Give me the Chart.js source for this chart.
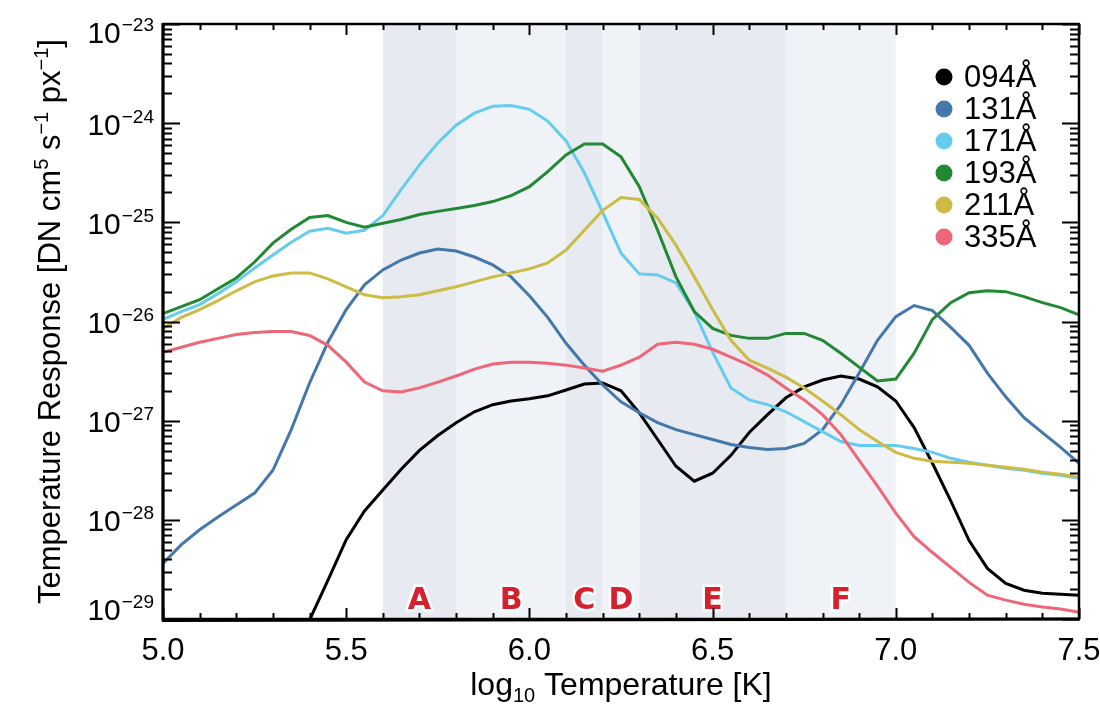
<!DOCTYPE html>
<html>
<head>
<meta charset="utf-8">
<script src="https://cdn.jsdelivr.net/npm/chart.js@4.4.1/dist/chart.umd.min.js"></script>
<style>
  html, body { margin: 0; padding: 0; background: #ffffff; }
  #wrap { width: 1100px; height: 712px; }
</style>
</head>
<body>
<div id="wrap"><canvas id="c" width="1100" height="712"></canvas></div>
<script>
// ---------------- data ----------------
const temps = [5.00, 5.05, 5.10, 5.15, 5.20, 5.25, 5.30, 5.35, 5.40, 5.45,
               5.50, 5.55, 5.60, 5.65, 5.70, 5.75, 5.80, 5.85, 5.90, 5.95,
               6.00, 6.05, 6.10, 6.15, 6.20, 6.25, 6.30, 6.35, 6.40, 6.45,
               6.50, 6.55, 6.60, 6.65, 6.70, 6.75, 6.80, 6.85, 6.90, 6.95,
               7.00, 7.05, 7.10, 7.15, 7.20, 7.25, 7.30, 7.35, 7.40, 7.45, 7.50];

const resp094 = [null, null, null, null, null, null, null, 3.98e-30, 9.77e-30, 2.45e-29,
                 6.31e-29, 1.23e-28, 2.00e-28, 3.24e-28, 5.01e-28, 7.08e-28, 9.55e-28, 1.23e-27, 1.45e-27, 1.58e-27,
                 1.66e-27, 1.78e-27, 2.04e-27, 2.34e-27, 2.40e-27, 2.00e-27, 1.20e-27, 6.46e-28, 3.47e-28, 2.45e-28,
                 2.95e-28, 4.47e-28, 7.59e-28, 1.15e-27, 1.70e-27, 2.19e-27, 2.57e-27, 2.82e-27, 2.63e-27, 2.19e-27,
                 1.58e-27, 8.51e-28, 3.72e-28, 1.55e-28, 6.17e-29, 3.24e-29, 2.29e-29, 1.95e-29, 1.82e-29, 1.78e-29, 1.74e-29];

const resp131 = [3.63e-29, 5.62e-29, 7.94e-29, 1.07e-28, 1.41e-28, 1.86e-28, 3.16e-28, 8.13e-28, 2.40e-27, 6.17e-27,
                 1.32e-26, 2.34e-26, 3.31e-26, 4.17e-26, 4.90e-26, 5.37e-26, 5.13e-26, 4.47e-26, 3.72e-26, 2.82e-26,
                 1.82e-26, 1.10e-26, 6.03e-27, 3.63e-27, 2.29e-27, 1.55e-27, 1.20e-27, 9.55e-28, 8.13e-28, 7.24e-28,
                 6.46e-28, 5.75e-28, 5.37e-28, 5.13e-28, 5.25e-28, 5.89e-28, 8.13e-28, 1.45e-27, 3.02e-27, 6.46e-27,
                 1.12e-26, 1.45e-26, 1.29e-26, 8.71e-27, 5.75e-27, 3.02e-27, 1.74e-27, 1.07e-27, 7.59e-28, 5.37e-28, 3.72e-28];

const resp171 = [1.05e-26, 1.26e-26, 1.48e-26, 1.91e-26, 2.51e-26, 3.47e-26, 4.68e-26, 6.31e-26, 8.13e-26, 8.71e-26,
                 7.76e-26, 8.32e-26, 1.17e-25, 2.14e-25, 3.80e-25, 6.31e-25, 9.55e-25, 1.26e-24, 1.48e-24, 1.51e-24,
                 1.38e-24, 1.05e-24, 6.61e-25, 3.16e-25, 1.26e-25, 4.90e-26, 3.02e-26, 2.95e-26, 2.45e-26, 1.26e-26,
                 4.90e-27, 2.14e-27, 1.62e-27, 1.45e-27, 1.23e-27, 9.77e-28, 7.76e-28, 6.17e-28, 5.62e-28, 5.62e-28,
                 5.62e-28, 5.25e-28, 4.79e-28, 4.17e-28, 3.80e-28, 3.55e-28, 3.31e-28, 3.16e-28, 2.95e-28, 2.82e-28, 2.63e-28];

const resp193 = [1.20e-26, 1.41e-26, 1.66e-26, 2.14e-26, 2.75e-26, 3.98e-26, 6.17e-26, 8.51e-26, 1.12e-25, 1.17e-25,
                 1.00e-25, 8.91e-26, 9.77e-26, 1.07e-25, 1.20e-25, 1.29e-25, 1.38e-25, 1.48e-25, 1.62e-25, 1.86e-25,
                 2.29e-25, 3.24e-25, 4.79e-25, 6.17e-25, 6.17e-25, 4.57e-25, 2.29e-25, 8.32e-26, 2.82e-26, 1.26e-26,
                 8.51e-27, 7.24e-27, 6.76e-27, 6.76e-27, 7.59e-27, 7.59e-27, 6.46e-27, 4.79e-27, 3.47e-27, 2.51e-27,
                 2.63e-27, 4.79e-27, 1.05e-26, 1.55e-26, 1.95e-26, 2.04e-26, 2.00e-26, 1.78e-26, 1.55e-26, 1.38e-26, 1.17e-26];

const resp211 = [8.51e-27, 1.10e-26, 1.32e-26, 1.62e-26, 2.04e-26, 2.51e-26, 2.88e-26, 3.09e-26, 3.09e-26, 2.69e-26,
                 2.24e-26, 1.86e-26, 1.74e-26, 1.78e-26, 1.86e-26, 2.04e-26, 2.24e-26, 2.51e-26, 2.82e-26, 3.09e-26,
                 3.39e-26, 3.89e-26, 5.25e-26, 8.32e-26, 1.32e-25, 1.78e-25, 1.70e-25, 1.10e-25, 5.89e-26, 2.82e-26,
                 1.32e-26, 6.46e-27, 4.07e-27, 3.39e-27, 2.75e-27, 2.14e-27, 1.58e-27, 1.15e-27, 8.13e-28, 6.17e-28,
                 4.79e-28, 4.17e-28, 3.89e-28, 3.80e-28, 3.72e-28, 3.55e-28, 3.39e-28, 3.24e-28, 3.02e-28, 2.88e-28, 2.69e-28];

const resp335 = [4.90e-27, 5.50e-27, 6.17e-27, 6.76e-27, 7.41e-27, 7.76e-27, 7.94e-27, 7.94e-27, 7.24e-27, 5.75e-27,
                 3.89e-27, 2.45e-27, 2.00e-27, 1.95e-27, 2.14e-27, 2.45e-27, 2.82e-27, 3.31e-27, 3.72e-27, 3.89e-27,
                 3.89e-27, 3.80e-27, 3.63e-27, 3.39e-27, 3.16e-27, 3.63e-27, 4.37e-27, 5.89e-27, 6.17e-27, 5.89e-27,
                 5.25e-27, 4.37e-27, 3.63e-27, 2.88e-27, 2.14e-27, 1.62e-27, 1.15e-27, 7.24e-28, 3.98e-28, 2.19e-28,
                 1.17e-28, 6.76e-29, 4.68e-29, 3.31e-29, 2.34e-29, 1.74e-29, 1.55e-29, 1.41e-29, 1.32e-29, 1.26e-29, 1.17e-29];

const channelLabels = ['094Å', '131Å', '171Å', '193Å', '211Å', '335Å'];
const channelColors = ['#000000', '#4477AA', '#66CCEE', '#228833', '#CCBB44', '#EE6677'];
const channelValues = [resp094, resp131, resp171, resp193, resp211, resp335];

const bandStarts = [5.6, 5.8, 6.1, 6.2, 6.3, 6.7];
const bandEnds   = [5.8, 6.1, 6.2, 6.3, 6.7, 7.0];
const bandLabels = ['A', 'B', 'C', 'D', 'E', 'F'];
const bandColors = ['#e7eaf0', '#eff2f6', '#e7eaf0', '#eff2f6', '#e7eaf0', '#eff2f6'];

const xTickValues = [5.0, 5.5, 6.0, 6.5, 7.0, 7.5];
const xTickLabels = ['5.0', '5.5', '6.0', '6.5', '7.0', '7.5'];
const yTickExponents = [-23, -24, -25, -26, -27, -28, -29];

const xMin = 5.0, xMax = 7.5, yMin = 1e-29, yMax = 1e-23;

// ---------------- drawing helpers ----------------
const FONT = "'Liberation Sans', Arial, Helvetica, sans-serif";

const decorPlugin = {
  id: 'decor',
  beforeDatasetsDraw(chart) {
    const { ctx, chartArea: a, scales: { x } } = chart;
    ctx.save();
    for (let i = 0; i < bandStarts.length; i++) {
      const x0 = x.getPixelForValue(bandStarts[i]);
      const x1 = x.getPixelForValue(bandEnds[i]);
      ctx.fillStyle = bandColors[i];
      ctx.fillRect(x0, a.top, x1 - x0, a.bottom - a.top);
    }
    ctx.restore();
  },
  afterDatasetsDraw(chart) {
    const { ctx, chartArea: a, scales: { x, y } } = chart;
    ctx.save();

    // band letters
    ctx.font = "bold 30px 'DejaVu Sans', " + FONT;
    ctx.textAlign = 'center';
    ctx.textBaseline = 'alphabetic';
    ctx.lineJoin = 'round';
    for (let i = 0; i < bandLabels.length; i++) {
      const cx = x.getPixelForValue((bandStarts[i] + bandEnds[i]) / 2);
      ctx.strokeStyle = '#ffffff';
      ctx.lineWidth = 5;
      ctx.strokeText(bandLabels[i], cx, 609);
      ctx.fillStyle = '#d5202e';
      ctx.fillText(bandLabels[i], cx, 609);
    }

    // frame
    ctx.strokeStyle = '#000';
    ctx.lineWidth = 2.5;
    ctx.strokeRect(a.left, a.top, a.right - a.left, a.bottom - a.top);
    ctx.lineWidth = 3;
    ctx.beginPath();
    ctx.moveTo(a.left, a.top - 1); ctx.lineTo(a.left, a.bottom + 1.5);
    ctx.lineTo(a.right + 1, a.bottom);
    ctx.stroke();

    // x ticks (top and bottom, inward)
    ctx.lineWidth = 2;
    for (let v = 0; v <= 25; v++) {
      const t = xMin + v * 0.1;
      const px = Math.round(x.getPixelForValue(t)) + 0.5;
      const len = (v % 5 === 0) ? 11 : 6;
      ctx.beginPath();
      ctx.moveTo(px, a.bottom); ctx.lineTo(px, a.bottom - len);
      ctx.moveTo(px, a.top); ctx.lineTo(px, a.top + len);
      ctx.stroke();
    }
    // y ticks (left and right, inward)
    for (let e = -29; e <= -23; e++) {
      for (let m = 1; m <= 9; m++) {
        if (e === -23 && m > 1) break;
        const v = m * Math.pow(10, e);
        const py = Math.round(y.getPixelForValue(v)) + 0.5;
        const len = (m === 1) ? 17 : 9;
        ctx.beginPath();
        ctx.moveTo(a.left, py); ctx.lineTo(a.left + len, py);
        ctx.moveTo(a.right, py); ctx.lineTo(a.right - len, py);
        ctx.stroke();
      }
    }

    // x tick labels
    ctx.fillStyle = '#000';
    ctx.font = "31px " + FONT;
    ctx.textAlign = 'center';
    for (let i = 0; i < xTickValues.length; i++) {
      ctx.fillText(xTickLabels[i], x.getPixelForValue(xTickValues[i]), 660);
    }

    // y tick labels: 10^exp
    ctx.textAlign = 'left';
    for (let i = 0; i < yTickExponents.length; i++) {
      const ex = yTickExponents[i];
      const py = y.getPixelForValue(Math.pow(10, ex));
      let base = py + 11.5;
      if (i === 0) base = py + 19;
      if (i === yTickExponents.length - 1) base = py + 1;
      const supTxt = '\u2212' + String(-ex);
      ctx.font = "30px " + FONT;
      const w1 = ctx.measureText('10').width;
      ctx.font = "19px " + FONT;
      const w2 = ctx.measureText(supTxt).width;
      const right = 154;
      const x0 = right - w1 - w2 - 1;
      ctx.font = "30px " + FONT;
      ctx.fillText('10', x0, base);
      ctx.font = "19px " + FONT;
      ctx.fillText(supTxt, x0 + w1 + 1, base - 12);
    }

    // x title: log10 Temperature [K]
    {
      const parts = [
        { t: 'log', f: 32, dy: 0 },
        { t: '10', f: 20, dy: 7 },
        { t: ' Temperature [K]', f: 32, dy: 0 }
      ];
      let total = 0;
      for (const p of parts) { ctx.font = p.f + "px " + FONT; p.w = ctx.measureText(p.t).width; total += p.w; }
      let cx = (a.left + a.right) / 2 - total / 2;
      for (const p of parts) {
        ctx.font = p.f + "px " + FONT;
        ctx.fillText(p.t, cx, 695 + p.dy);
        cx += p.w;
      }
    }

    // y title (rotated)
    {
      const parts = [
        { t: 'Temperature Response [DN cm', f: 31, dy: 0 },
        { t: '5', f: 20, dy: -12 },
        { t: ' s', f: 31, dy: 0 },
        { t: '\u22121', f: 20, dy: -12 },
        { t: ' px', f: 31, dy: 0 },
        { t: '\u22121', f: 20, dy: -12 },
        { t: ']', f: 31, dy: 0 }
      ];
      let total = 0;
      for (const p of parts) { ctx.font = p.f + "px " + FONT; p.w = ctx.measureText(p.t).width; total += p.w; }
      ctx.save();
      ctx.translate(60, (a.top + a.bottom) / 2);
      ctx.rotate(-Math.PI / 2);
      let cx = -total / 2;
      for (const p of parts) {
        ctx.font = p.f + "px " + FONT;
        ctx.fillText(p.t, cx, p.dy);
        cx += p.w;
      }
      ctx.restore();
    }

    // legend
    ctx.font = "31px " + FONT;
    ctx.textBaseline = 'alphabetic';
    chart.data.datasets.forEach((ds, i) => {
      const cy = 77 + i * 32;
      ctx.fillStyle = ds.borderColor;
      ctx.beginPath();
      ctx.arc(944, cy, 8.5, 0, Math.PI * 2);
      ctx.fill();
      ctx.fillStyle = '#000';
      ctx.fillText(ds.label, 964, cy + 10);
    });

    ctx.restore();
  }
};

const datasets = channelLabels.map((lab, k) => ({
  label: lab,
  data: temps.map((t, i) => ({ x: t, y: channelValues[k][i] })),
  borderColor: channelColors[k],
  backgroundColor: channelColors[k],
  borderWidth: 3,
  pointRadius: 0,
  tension: 0,
  fill: false,
  spanGaps: false,
  clip: 0,
  order: channelLabels.length - k
}));

new Chart(document.getElementById('c'), {
  type: 'line',
  data: { datasets },
  options: {
    responsive: false,
    animation: false,
    devicePixelRatio: 1,
    layout: { padding: { left: 163, top: 24, right: 21, bottom: 93 } },
    scales: {
      x: { type: 'linear', min: xMin, max: xMax, display: false },
      y: { type: 'logarithmic', min: yMin, max: yMax, display: false }
    },
    plugins: { legend: { display: false }, tooltip: { enabled: false } }
  },
  plugins: [decorPlugin]
});
</script>
</body>
</html>
